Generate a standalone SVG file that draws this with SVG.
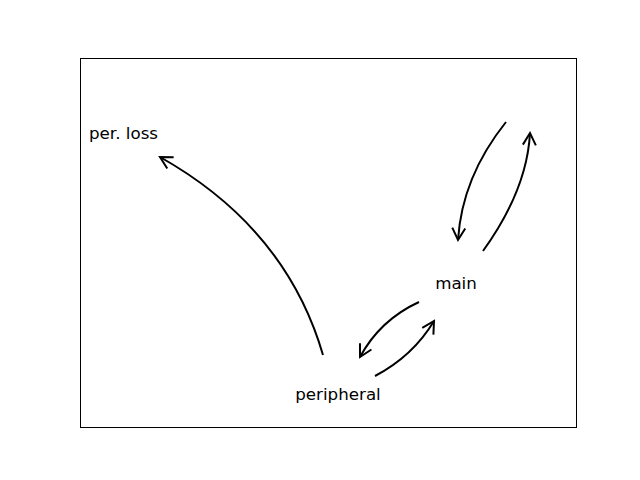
<svg xmlns="http://www.w3.org/2000/svg" width="640" height="480" viewBox="0 0 640 480">
<defs>
<marker id="ah" markerUnits="userSpaceOnUse" markerWidth="30" markerHeight="30" refX="0" refY="0" viewBox="-15 -15 30 30" orient="auto" overflow="visible">
<path d="M-12,-6.5 L0,0 L-12,6.5" fill="none" stroke="#000" stroke-width="2" stroke-linejoin="miter"/>
</marker>
<style>
.e{fill:none;stroke:#000;stroke-width:2;marker-end:url(#ah)}
.t{font-family:"DejaVu Sans",sans-serif;font-size:16.7px;fill:#000;text-anchor:middle}
</style>
</defs>
<rect width="640" height="480" fill="#fff"/>
<rect x="80.5" y="58.5" width="496" height="369" fill="none" stroke="#000" stroke-width="1"/>
<g id="edges">
<path class="e" d="M323,355 Q286,228 160,157"/>
<path class="e" d="M506,122 Q462,177 458,240"/>
<path class="e" d="M483,251 Q527,190 530,133"/>
<path class="e" d="M419,302 Q380,320 360,357"/>
<path class="e" d="M375,376 Q413,356 434,321"/>
</g>
<g id="per_loss"><text class="t" x="123.5" y="139">per. loss</text></g>
<g id="main"><text class="t" x="456" y="289">main</text></g>
<g id="peripheral"><text class="t" x="338" y="400">peripheral</text></g>
</svg>
